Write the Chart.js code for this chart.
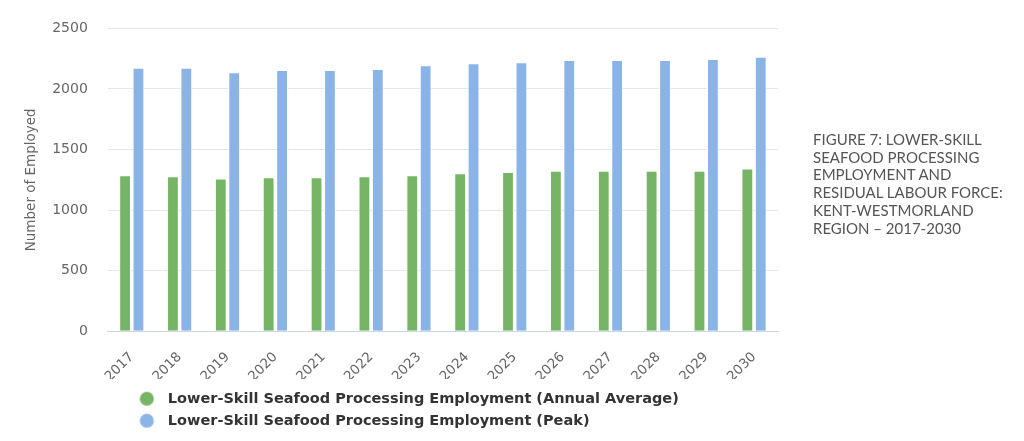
<!DOCTYPE html>
<html>
<head>
<meta charset="utf-8">
<script src="https://cdn.jsdelivr.net/npm/chart.js@4.4.0/dist/chart.umd.min.js"></script>
<style>
  html, body { margin: 0; padding: 0; background: #fff; }
  #wrap { position: relative; width: 1024px; height: 441px; }
  #c { position: absolute; left: 0; top: 0; }
  #title {
    position: absolute; left: 813px; top: 131px; width: 210px;
    font-family: Lato, "Open Sans", sans-serif; font-size: 15px; line-height: 17.7px;
    color: #555; text-transform: uppercase;
  }
</style>
</head>
<body>
<div id="wrap">
  <canvas id="c" width="1024" height="441"></canvas>
  <div id="title">FIGURE 7: LOWER-SKILL<br>SEAFOOD PROCESSING<br>EMPLOYMENT AND<br>RESIDUAL LABOUR FORCE:<br>KENT-WESTMORLAND<br>REGION – 2017-2030</div>
</div>
<script>
const years = ['2017','2018','2019','2020','2021','2022','2023','2024','2025','2026','2027','2028','2029','2030'];
const annualAverage = [1288, 1280, 1261, 1272, 1272, 1280, 1288, 1305, 1315, 1324, 1324, 1324, 1324, 1343];
const peak = [2176, 2176, 2138, 2157, 2157, 2165, 2195, 2212, 2220, 2239, 2239, 2239, 2247, 2266];
const seriesNames = ['Lower-Skill Seafood Processing Employment (Annual Average)', 'Lower-Skill Seafood Processing Employment (Peak)'];
const yTicks = [0, 500, 1000, 1500, 2000, 2500];
const colors = ['#77b566', '#8ab4e6'];

function dotImage(color) {
  const c = document.createElement('canvas');
  c.width = 28; c.height = 16;
  const g = c.getContext('2d');
  g.fillStyle = color;
  g.beginPath(); g.arc(7.5, 8, 7, 0, Math.PI * 2); g.fill();
  return c;
}
const dots = colors.map(dotImage);

const legendShift = {
  id: 'legendShift',
  afterLayout(chart) {
    const l = chart.legend;
    if (l) { l.left += 30.75; l.right += 30.75; l.top += 5; l.bottom += 5; }
  }
};

new Chart(document.getElementById('c'), {
  type: 'bar',
  data: {
    labels: years,
    datasets: [
      { label: seriesNames[0], data: annualAverage, backgroundColor: colors[0], borderColor: '#ffffff', borderWidth: 1 },
      { label: seriesNames[1], data: peak, backgroundColor: colors[1], borderColor: '#ffffff', borderWidth: 1 }
    ]
  },
  options: {
    responsive: false,
    animation: false,
    devicePixelRatio: 1,
    layout: { padding: { left: 23, right: 246, top: 9, bottom: 8 } },
    datasets: { bar: { categoryPercentage: 0.56, barPercentage: 0.88 } },
    scales: {
      x: {
        grid: { display: false, drawTicks: false },
        border: { display: true, color: '#ccd6eb', width: 1 },
        ticks: { color: '#666', font: { family: 'DejaVu Sans', size: 13.5 }, minRotation: 45, maxRotation: 45, padding: 18 },
        afterFit(scale) { scale.paddingLeft = 0; scale.paddingRight = 0; scale.height -= 24; }
      },
      y: {
        min: 0, max: 2500,
        afterBuildTicks(axis) { axis.ticks = yTicks.map(v => ({ value: v })); },
        grid: { color: '#e6e6e6', drawTicks: false },
        border: { display: false },
        ticks: { color: '#666', font: { family: 'DejaVu Sans', size: 14 }, padding: 20, callback: v => String(v) },
        title: { display: true, text: 'Number of Employed', color: '#666', font: { family: 'DejaVu Sans', size: 13.5 }, padding: { top: 0, bottom: 13 } },
        afterFit(scale) { scale.width -= 20; }
      }
    },
    plugins: {
      legend: {
        position: 'bottom', align: 'start', fullSize: false,
        labels: {
          usePointStyle: true, boxWidth: 14.5, boxHeight: 14.5,
          color: '#333', font: { family: 'DejaVu Sans', size: 14.5, weight: 'bold' }, padding: 7.5,
          generateLabels(chart) {
            const items = Chart.defaults.plugins.legend.labels.generateLabels(chart);
            items.forEach((it, i) => { it.pointStyle = dots[i]; });
            return items;
          }
        }
      },
      tooltip: { enabled: false },
      title: { display: false }
    }
  },
  plugins: [legendShift]
});
</script>
</body>
</html>
